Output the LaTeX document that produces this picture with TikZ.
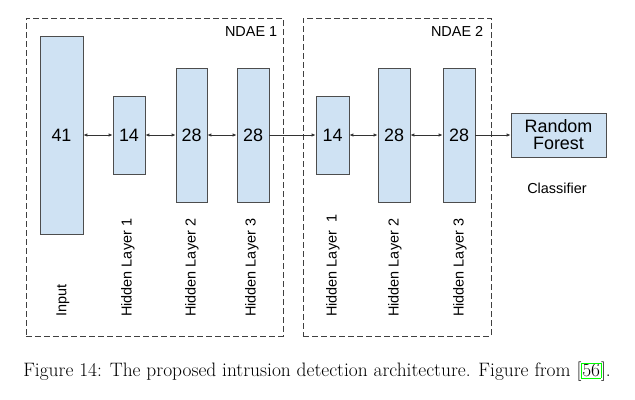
\documentclass[tikz,border=0pt]{standalone}
\usepackage{fontspec}
\newfontfamily\arialfont{Liberation Sans}
\usepackage{xcolor}
\definecolor{layerblue}{HTML}{CFE2F3}
\definecolor{edgegray}{HTML}{4D4D4D}
\usetikzlibrary{arrows.meta}
\setlength{\fboxsep}{0.5pt}

\begin{document}
\begin{tikzpicture}[x=1bp,y=-1bp,
    layer/.style={draw=edgegray,fill=layerblue,line width=0.8pt,inner sep=0pt,
        font=\arialfont\fontsize{18}{20}\selectfont},
    lbl/.style={rotate=90,anchor=west,inner sep=0pt,
        font=\arialfont\fontsize{14.5}{16}\selectfont},
    frame/.style={draw=black!75,dash pattern=on 6bp off 3bp,line width=0.8pt},
    link/.style={draw=black!80,line width=0.8pt,
        {Latex[length=4pt,width=3.5pt]}-{Latex[length=4pt,width=3.5pt]}},
    feed/.style={draw=black!80,line width=0.8pt,-{Latex[length=4pt,width=3.5pt]}}]
    \useasboundingbox (0,0) rectangle (635,399);
    % dashed frames of the two NDAEs
    \node [frame,minimum width=257bp,minimum height=318bp] (ndae1) at (154.5,177) {};
    \node [frame,minimum width=188bp,minimum height=318bp] (ndae2) at (397,177) {};
    \node [anchor=north east,inner sep=0pt,font=\arialfont\fontsize{14.5}{16}\selectfont] (name1) at ([shift={(-6,9)}]ndae1.north east) {NDAE 1};
    \node [anchor=north east,inner sep=0pt,font=\arialfont\fontsize{14.5}{16}\selectfont] (name2) at ([shift={(-8,9)}]ndae2.north east) {NDAE 2};
    % layers
    \node [layer,minimum width=43bp,minimum height=198bp] (in) at (61.5,135) {41};
    \node [layer,minimum width=32bp,minimum height=78bp] (a1) at (129,135) {14};
    \node [layer,minimum width=31bp,minimum height=134bp] (a2) at (191.5,135) {28};
    \node [layer,minimum width=32bp,minimum height=134bp] (a3) at (253,135) {28};
    \node [layer,minimum width=33bp,minimum height=78bp] (b1) at (332.5,135) {14};
    \node [layer,minimum width=32bp,minimum height=134bp] (b2) at (394,135) {28};
    \node [layer,minimum width=32bp,minimum height=134bp] (b3) at (459,135) {28};
    \node [layer,minimum width=95bp,minimum height=44bp,align=center] (rf) at (558.5,135) {Random\\[-3pt]Forest};
    \node [inner sep=0pt,font=\arialfont\fontsize{14.5}{16}\selectfont] (clf) at (557,188) {Classifier};
    % connections
    \draw [link] (in) -- (a1);
    \draw [link] (a1) -- (a2);
    \draw [link] (a2) -- (a3);
    \draw [feed] (a3) -- (b1);
    \draw [link] (b1) -- (b2);
    \draw [link] (b2) -- (b3);
    \draw [feed] (b3) -- (rf);
    % layer names
    \node [lbl] (l0) at (63,317) {Input};
    \node [lbl] (l1) at (128,317) {Hidden Layer 1};
    \node [lbl] (l2) at (192,317) {Hidden Layer 2};
    \node [lbl] (l3) at (252,317) {Hidden Layer 3};
    \node [lbl] (m1) at (333,317) {Hidden Layer~~1};
    \node [lbl] (m2) at (395,317) {Hidden Layer 2};
    \node [lbl] (m3) at (460,317) {Hidden Layer 3};
    \node [font=\fontsize{19.5}{23}\selectfont] (caption) at (317,372) {Figure 14: The proposed intrusion detection architecture. Figure from [\fcolorbox{green}{white}{56}].};
\end{tikzpicture}
\end{document}
